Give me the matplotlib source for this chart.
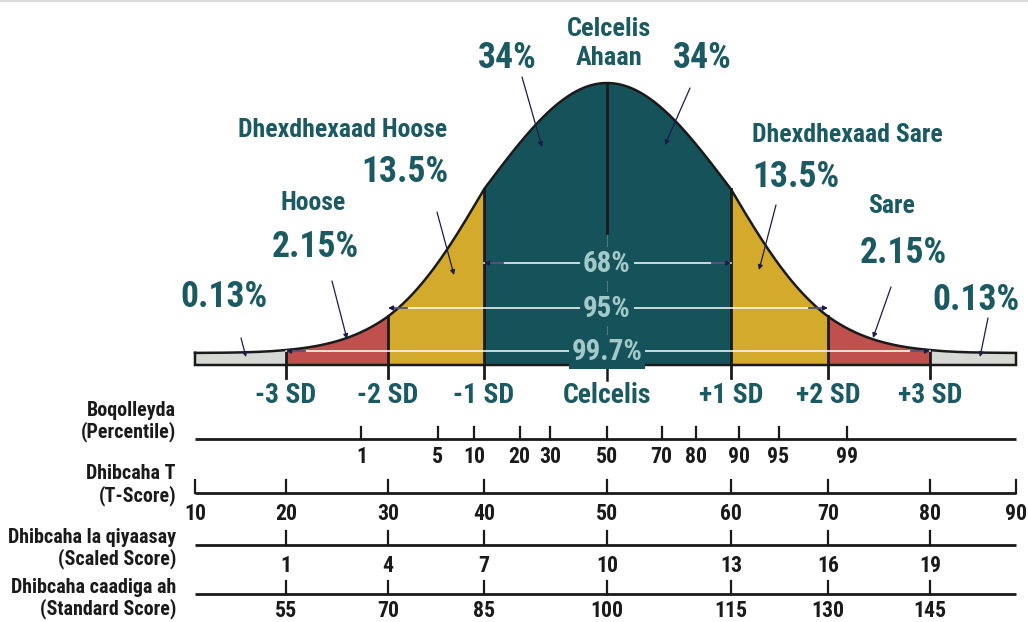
import os
import numpy as np
import matplotlib
matplotlib.use("Agg")
import matplotlib.pyplot as plt
import matplotlib.transforms as mtransforms
from matplotlib import font_manager as fm

# ---------------- data ----------------
sd_marks = [-3, -2, -1, 0, 1, 2, 3]
sd_labels = ["-3 SD", "-2 SD", "-1 SD", "Celcelis", "+1 SD", "+2 SD", "+3 SD"]
region_edges = [-4, -3, -2, -1, 0, 1, 2, 3, 4]
region_share = ["0.13%", "2.15%", "13.5%", "34%", "34%", "13.5%", "2.15%", "0.13%"]
region_names = ["", "Hoose", "Dhexdhexaad Hoose", "", "", "Dhexdhexaad Sare", "Sare", ""]
center_name = "Celcelis\nAhaan"
coverage_labels = ["68%", "95%", "99.7%"]
coverage_sd = [1, 2, 3]

percentile_labels = [1, 5, 10, 20, 30, 50, 70, 80, 90, 95, 99]
percentile_sd = [-2.26, -1.48, -1.10, -0.71, -0.46, 0.0, 0.44, 0.72, 1.08, 1.49, 2.19]
t_scores = [10, 20, 30, 40, 50, 60, 70, 80, 90]
scaled_scores = [1, 4, 7, 10, 13, 16, 19]
standard_scores = [55, 70, 85, 100, 115, 130, 145]
row_titles = [("Boqolleyda", "(Percentile)"), ("Dhibcaha T", "(T-Score)"),
              ("Dhibcaha la qiyaasay", "(Scaled Score)"),
              ("Dhibcaha caadiga ah", "(Standard Score)")]

scale_rows = [
    (percentile_labels, percentile_sd),
    (t_scores, [(t - 50) / 10 for t in t_scores]),
    (scaled_scores, [(s - 10) / 3 for s in scaled_scores]),
    (standard_scores, [(s - 100) / 15 for s in standard_scores]),
]

# ---------------- styling / layout ----------------
TEAL = "#16525a"
TEAL_TXT = "#1b5a63"
YELLOW = "#d4aa2d"
RED = "#c0504d"
GRAY = "#d6d8d3"
INNER = "#a3c9c9"
NAVY = "#1c1c4c"
INK = "#1a1a1a"
region_colors = [GRAY, RED, YELLOW, TEAL, TEAL, YELLOW, RED, GRAY]

W, H = 1028, 622
knot_sd = np.array([-4, -3, -2, -1, 0, 1, 2, 3, 4], float)
knot_px = np.array([195, 286, 388, 484, 607, 731, 828, 930, 1016], float)


def fwd(z):
    z = np.asarray(z, float)
    out = np.interp(z, knot_sd, knot_px)
    sl = (knot_px[1] - knot_px[0]) / (knot_sd[1] - knot_sd[0])
    sr = (knot_px[-1] - knot_px[-2]) / (knot_sd[-1] - knot_sd[-2])
    out = np.where(z < knot_sd[0], knot_px[0] + (z - knot_sd[0]) * sl, out)
    out = np.where(z > knot_sd[-1], knot_px[-1] + (z - knot_sd[-1]) * sr, out)
    return out


def inv(p):
    p = np.asarray(p, float)
    out = np.interp(p, knot_px, knot_sd)
    sl = (knot_sd[1] - knot_sd[0]) / (knot_px[1] - knot_px[0])
    sr = (knot_sd[-1] - knot_sd[-2]) / (knot_px[-1] - knot_px[-2])
    out = np.where(p < knot_px[0], knot_sd[0] + (p - knot_px[0]) * sl, out)
    out = np.where(p > knot_px[-1], knot_sd[-1] + (p - knot_px[-1]) * sr, out)
    return out


# font choice: prefer a condensed bold face
def find_font():
    prefs = [("NotoSans-ExtraCondensedBold", 1.0), ("NotoSans-CondensedBold", 0.9),
             ("NotoSans-SemiCondensedBold", 0.84), ("RobotoCondensed-Bold", 0.95),
             ("LiberationSansNarrow-Bold", 0.9), ("DejaVuSansCondensed-Bold", 0.8),
             ("Roboto-Bold", 0.78)]
    files = [f.fname for f in fm.fontManager.ttflist]
    for name, sc in prefs:
        for fn in files:
            if os.path.splitext(os.path.basename(fn))[0] == name:
                return fn, sc
    return None, 0.72


FONT_FILE, FSCALE = find_font()


def fp(size):
    if FONT_FILE:
        return fm.FontProperties(fname=FONT_FILE, size=size * FSCALE)
    return fm.FontProperties(family="DejaVu Sans", weight="bold", size=size * FSCALE)


BASE_TOP, BASE_BOT, PEAK = 353, 365, 83
SD_TICK_BOT = 378


def curve(z):
    z = np.asarray(z, float)
    return BASE_TOP - (BASE_TOP - PEAK) * np.exp(-0.5 * z ** 2)


fig = plt.figure(figsize=(W / 100, H / 100), dpi=100)
ax = fig.add_axes([0, 0, 1, 1])
ax.set_xscale("function", functions=(fwd, inv))
ax.set_xlim(float(inv(0.0)), float(inv(W)))
ax.set_ylim(H, 0)
ax.axis("off")
px = mtransforms.Affine2D().scale(1.0 / W, -1.0 / H).translate(0, 1) + fig.transFigure

# top hairline
ax.plot([0, 1], [0.998, 0.998], transform=fig.transFigure, color="#dcdcdc", lw=1.5)

# ---- bell shape ----
for i in range(len(region_edges) - 1):
    zz = np.linspace(region_edges[i], region_edges[i + 1], 200)
    ax.fill_between(zz, BASE_BOT, curve(zz), color=region_colors[i], lw=0, zorder=1)

zf = np.linspace(region_edges[0], region_edges[-1], 800)
ox = np.concatenate([zf, [region_edges[-1], region_edges[0], region_edges[0]]])
oy = np.concatenate([curve(zf), [BASE_BOT, BASE_BOT, curve(region_edges[0])]])
ax.plot(ox, oy, color=INK, lw=1.8, zorder=3, solid_joinstyle="miter")

for z in sd_marks:
    if z == 0:
        ax.plot([z, z], [curve(z), 233], color=INK, lw=2.0, zorder=3)
        ax.plot([z, z], [BASE_BOT, 380], color=INK, lw=1.8, zorder=3)
    else:
        ax.plot([z, z], [curve(z), SD_TICK_BOT], color=INK, lw=2.0, zorder=3)

for z, lab in zip(sd_marks, sd_labels):
    ax.text(z, 403, lab, ha="center", va="baseline", color=TEAL_TXT,
            fontproperties=fp(21), zorder=5)

# ---- coverage bands (68 / 95 / 99.7) ----
cov_y = [263, 308, 351]
for lab, k, y in zip(coverage_labels, coverage_sd, cov_y):
    ax.plot([-k, k], [y, y], color="white", lw=1.1, zorder=4)
    for side in (-1, 1):
        ax.annotate("", xy=(side * k, y), xytext=(-side * 14, 0),
                    textcoords="offset points",
                    arrowprops=dict(arrowstyle="-|>", color=NAVY, lw=1.0,
                                    mutation_scale=7, shrinkA=0, shrinkB=0),
                    zorder=5)
    ax.text(0, y + 1, lab, ha="center", va="center", color=INNER,
            fontproperties=fp(22), zorder=6,
            bbox=dict(boxstyle="square,pad=0.1", fc=TEAL, ec="none"))

# ---- region labels ----
share_pos = [(224, 307), (315, 257), (405, 182), (507, 68),
             (702, 68), (796, 187), (903, 263), (976, 310)]
name_pos = [None, (313, 210), (343, 137), None, None, (847, 142), (892, 213), None]
for txt, pos in zip(region_share, share_pos):
    ax.text(pos[0], pos[1], txt, transform=px, ha="center", va="baseline",
            color=TEAL_TXT, fontproperties=fp(27), zorder=6)
for txt, pos in zip(region_names, name_pos):
    if pos:
        ax.text(pos[0], pos[1], txt, transform=px, ha="center", va="baseline",
                color=TEAL_TXT, fontproperties=fp(19.5), zorder=6)
for line, yb in zip(center_name.split("\n"), [36, 65]):
    ax.text(609, yb, line, transform=px, ha="center", va="baseline",
            color=TEAL_TXT, fontproperties=fp(20), zorder=6)

pointers = [((241, 338), (246, 357)), ((332, 281), (347, 339)),
            ((437, 212), (454, 275)), ((522, 77), (542, 147)),
            ((690, 88), (665, 145)), ((776, 205), (759, 270)),
            ((891, 287), (873, 338)), ((988, 318), (980, 357))]
for tail, head in pointers:
    ax.annotate("", xy=head, xycoords=px, xytext=tail, textcoords=px,
                arrowprops=dict(arrowstyle="-|>", color=NAVY, lw=0.9,
                                mutation_scale=7, shrinkA=0, shrinkB=0),
                zorder=7)

# ---- score scales ----
line_y = [439, 493, 545, 594]
tick_h = [12, 13, 14, 13]
label_base = [463, 520, 572, 617]
title_base = [(416, 437), (479, 501), (543, 564), (593, 614)]
for (labels, pos), ly, th, lb, tb, title in zip(scale_rows, line_y, tick_h,
                                                label_base, title_base, row_titles):
    ax.plot([region_edges[0], region_edges[-1]], [ly, ly], color=INK, lw=2.0,
            zorder=3, solid_capstyle="butt")
    for lab, z in zip(labels, pos):
        ax.plot([z, z], [ly - th, ly], color=INK, lw=1.6, zorder=3)
        ax.text(z, lb, str(lab), ha="center", va="baseline", color=INK,
                fontproperties=fp(16.5), zorder=5)
    for line, yb in zip(title, tb):
        ax.text(176, yb, line, transform=px, ha="right", va="baseline",
                color=INK, fontproperties=fp(15.2), zorder=5)

fig.savefig("out.png", dpi=100, facecolor="white")
